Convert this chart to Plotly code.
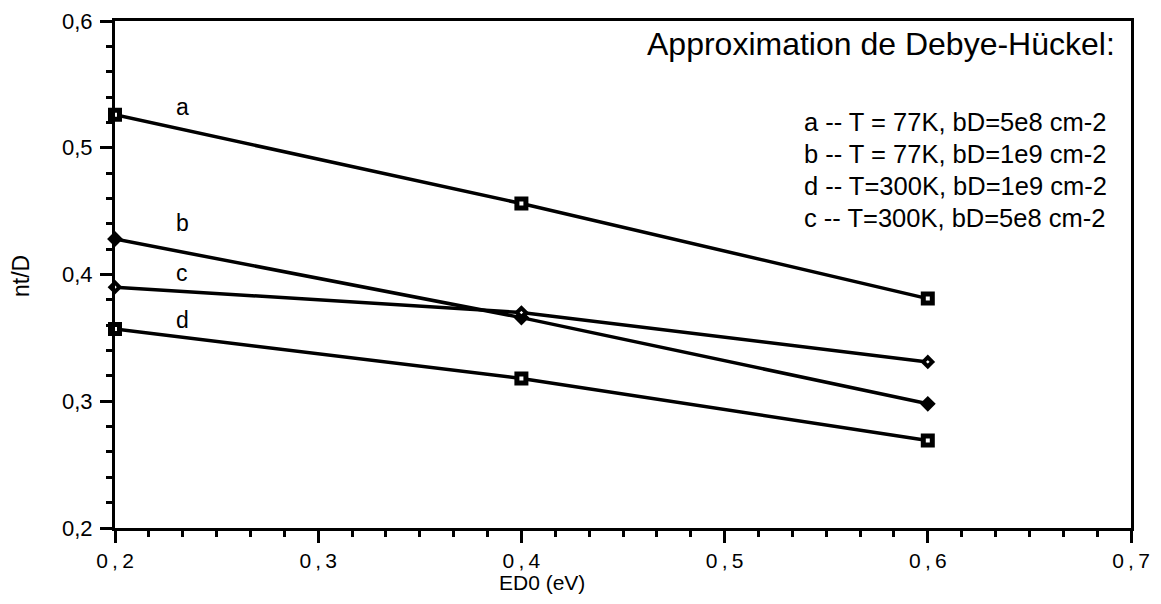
import plotly.graph_objects as go

x_vals = [0.2, 0.4, 0.6]
series_a = [0.526, 0.456, 0.381]
series_b = [0.428, 0.366, 0.298]
series_c = [0.390, 0.370, 0.331]
series_d = [0.357, 0.318, 0.269]

curve_labels = ["a", "b", "c", "d"]
curve_label_x = [0.233, 0.233, 0.233, 0.233]
curve_label_y = [0.532, 0.441, 0.401, 0.364]

legend_lines = [
    "a -- T = 77K, bD=5e8 cm-2",
    "b -- T = 77K, bD=1e9 cm-2",
    "d -- T=300K, bD=1e9 cm-2",
    "c -- T=300K, bD=5e8 cm-2",
]
title_text = "Approximation de Debye-Hückel:"

x_ticks = [0.2, 0.3, 0.4, 0.5, 0.6, 0.7]
x_ticktext = ["0\u2009,\u20092", "0\u2009,\u20093", "0\u2009,\u20094",
              "0\u2009,\u20095", "0\u2009,\u20096", "0\u2009,\u20097"]
y_ticks = [0.2, 0.3, 0.4, 0.5, 0.6]
y_ticktext = ["0,2", "0,3", "0,4", "0,5", "0,6"]

FONT = "Liberation Sans, Arial, Helvetica, sans-serif"

fig = go.Figure()

def add_series(y, symbol, size, lw, fill):
    fig.add_trace(go.Scatter(
        x=x_vals, y=y, mode="lines+markers",
        line=dict(color="black", width=3.5),
        marker=dict(symbol=symbol, size=size, color=fill,
                    line=dict(color="black", width=lw)),
        showlegend=False, cliponaxis=False,
    ))

add_series(series_a, "square", 9, 5, "white")
add_series(series_b, "diamond", 10, 2, "black")
add_series(series_c, "diamond", 7, 4, "white")
add_series(series_d, "square", 9, 5, "white")

for lab, lx, ly in zip(curve_labels, curve_label_x, curve_label_y):
    fig.add_annotation(x=lx, y=ly, text=lab, showarrow=False,
                       font=dict(family=FONT, size=23, color="black"))

fig.add_annotation(xref="paper", yref="paper", x=(1117 - 115) / 1016, y=(528 - 44) / 507,
                   xanchor="right", yanchor="middle",
                   text=title_text, showarrow=False,
                   font=dict(family=FONT, size=32, color="black"))

for i, t in enumerate(legend_lines):
    fig.add_annotation(xref="paper", yref="paper", x=(802 - 115) / 1016,
                       y=(528 - 122 - 32 * i) / 507,
                       xanchor="left", yanchor="middle", text=t, showarrow=False,
                       font=dict(family=FONT, size=25.5, color="black"))

fig.add_annotation(xref="paper", yref="paper", x=(542 - 115) / 1016, y=(528 - 582) / 507,
                   xanchor="center", yanchor="middle", text="ED0 (eV)", showarrow=False,
                   font=dict(family=FONT, size=21, color="black"))
fig.add_annotation(xref="paper", yref="paper", x=(21 - 115) / 1016, y=(528 - 276) / 507,
                   xanchor="center", yanchor="middle", text="nt/D", textangle=-90, showarrow=False,
                   font=dict(family=FONT, size=23, color="black"))

fig.update_xaxes(range=[0.2, 0.7], tickvals=x_ticks, ticktext=x_ticktext, automargin=False,
                 showgrid=False, zeroline=False, showline=True, linecolor="black", linewidth=3,
                 mirror=True, ticks="outside", ticklen=12, tickwidth=3, tickcolor="black",
                 ticklabelstandoff=0,
                 tickfont=dict(family=FONT, size=21, color="black"),
                 minor=dict(dtick=0.1 / 6, tick0=0.2, ticks="outside", ticklen=6, tickwidth=3,
                            tickcolor="black", showgrid=False))
fig.update_yaxes(range=[0.2, 0.6], tickvals=y_ticks, ticktext=y_ticktext, automargin=False,
                 showgrid=False, zeroline=False, showline=True, linecolor="black", linewidth=3,
                 mirror=True, ticks="outside", ticklen=12, tickwidth=3, tickcolor="black",
                 ticklabelstandoff=3,
                 tickfont=dict(family=FONT, size=22, color="black"),
                 minor=dict(dtick=0.02, tick0=0.2, ticks="outside", ticklen=6, tickwidth=3,
                            tickcolor="black", showgrid=False))

fig.update_layout(width=1145, height=588, margin=dict(l=107, r=22, t=13, b=68),
                  plot_bgcolor="white", paper_bgcolor="white",
                  font=dict(family=FONT, color="black"))

fig.write_html("out.html")
